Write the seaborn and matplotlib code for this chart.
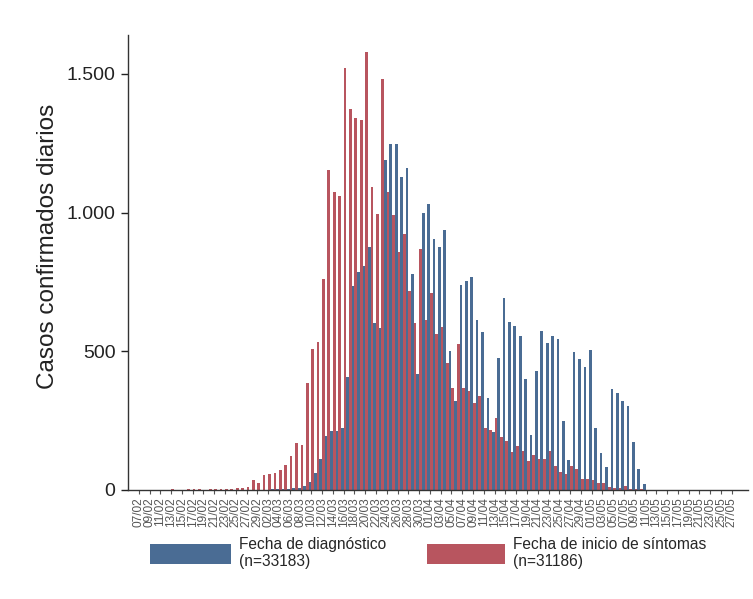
import datetime as dt
import numpy as np
import pandas as pd
import matplotlib
matplotlib.use("Agg")
import matplotlib.pyplot as plt
import matplotlib.ticker as mticker
from matplotlib.patches import Patch
import seaborn as sns

# ---------------- data ----------------
inicio = dt.date(2020, 2, 7)
fechas = [(inicio + dt.timedelta(days=i)).strftime("%d/%m") for i in range(111)]

diagnostico = [
    0, 0, 0, 0, 0, 0, 0, 0, 0, 0,
    0, 0, 0, 0, 0, 0, 0, 0, 1, 0,
    1, 1, 0, 1, 1, 2, 2, 3, 4, 6,
    8, 15, 30, 60, 110, 194, 213, 213, 222, 408,
    735, 787, 809, 877, 603, 584, 1190, 1247, 1247, 1127,
    1160, 778, 418, 1000, 1030, 906, 876, 938, 500, 322,
    740, 754, 766, 614, 571, 330, 210, 474, 691, 605,
    591, 555, 400, 200, 430, 572, 529, 554, 543, 249,
    107, 499, 473, 444, 506, 225, 135, 84, 364, 348,
    321, 301, 172, 74, 23, 0, 0, 0, 0, 0,
    0, 0, 0, 0, 0, 0, 0, 0, 0, 0,
    0,
]

sintomas = [
    0, 0, 0, 0, 0, 0, 2, 1, 1, 2,
    3, 3, 1, 3, 3, 4, 5, 4, 6, 8,
    12, 35, 25, 55, 58, 60, 72, 90, 122, 171,
    164, 386, 510, 534, 759, 1153, 1075, 1061, 1522, 1373,
    1340, 1334, 1580, 1091, 996, 1483, 1073, 993, 857, 923,
    716, 603, 869, 612, 711, 564, 587, 456, 369, 525,
    366, 358, 313, 339, 222, 216, 258, 190, 177, 138,
    159, 140, 105, 126, 112, 112, 140, 86, 66, 56,
    86, 74, 40, 40, 36, 26, 24, 10, 8, 8,
    14, 5, 3, 2, 1, 0, 0, 0, 0, 0,
    0, 0, 0, 0, 0, 0, 0, 0, 0, 0,
    0,
]

series = ["Fecha de diagnóstico\n(n=33183)", "Fecha de inicio de síntomas\n(n=31186)"]
colores = ["#4a6c94", "#b8555f"]
y_ticks = [0, 500, 1000, 1500]

df = pd.DataFrame({
    "fecha": fechas + fechas,
    "serie": [series[0]] * len(fechas) + [series[1]] * len(fechas),
    "casos": diagnostico + sintomas,
})

# ---------------- plot ----------------
sns.set_style("ticks")
plt.rcParams["font.family"] = ["Liberation Sans", "DejaVu Sans"]

fig = plt.figure(figsize=(7.53, 5.99), dpi=100)
ax = fig.add_axes([128 / 753, 1 - 490 / 599, 620 / 753, 455 / 599])

sns.barplot(data=df, x="fecha", y="casos", hue="serie", order=fechas,
            hue_order=series, palette=colores, width=1.0, saturation=1,
            errorbar=None, dodge=True, linewidth=0, legend=False, ax=ax)

ax.set_xlim(-2.0, 113.0)
ax.set_ylim(0, 1640)
ax.set_xticks(range(0, len(fechas), 2))
ax.set_xticklabels(fechas[::2], rotation=90, fontsize=8.6, color="#555555")
ax.set_yticks(y_ticks)
ax.yaxis.set_major_formatter(mticker.FuncFormatter(lambda v, p: f"{int(v):,}".replace(",", ".")))
ax.tick_params(axis="y", labelsize=14, length=5, width=1, pad=4, colors="#222222")
ax.tick_params(axis="x", length=3, width=0.8, pad=2, colors="#555555")
ax.set_xlabel("")
ax.set_ylabel("Casos confirmados diarios", fontsize=17.5, color="#222222")
ax.yaxis.set_label_coords(-0.112, 0.535)
sns.despine(ax=ax)
for s in ["left", "bottom"]:
    ax.spines[s].set_color("#333333")
    ax.spines[s].set_linewidth(1.0)

handles = [Patch(facecolor=c, edgecolor="none") for c in colores]
leg1 = fig.legend([handles[0]], [series[0]], loc="upper left",
                  bbox_to_anchor=(150 / 753, 1 - 537 / 599), frameon=False,
                  fontsize=11.2, handlelength=5.2, handleheight=1.6,
                  handletextpad=0.5, borderpad=0, borderaxespad=0)
leg2 = fig.legend([handles[1]], [series[1]], loc="upper left",
                  bbox_to_anchor=(427 / 753, 1 - 537 / 599), frameon=False,
                  fontsize=11.2, handlelength=5.0, handleheight=1.6,
                  handletextpad=0.5, borderpad=0, borderaxespad=0)

fig.savefig("out.png", dpi=100)
